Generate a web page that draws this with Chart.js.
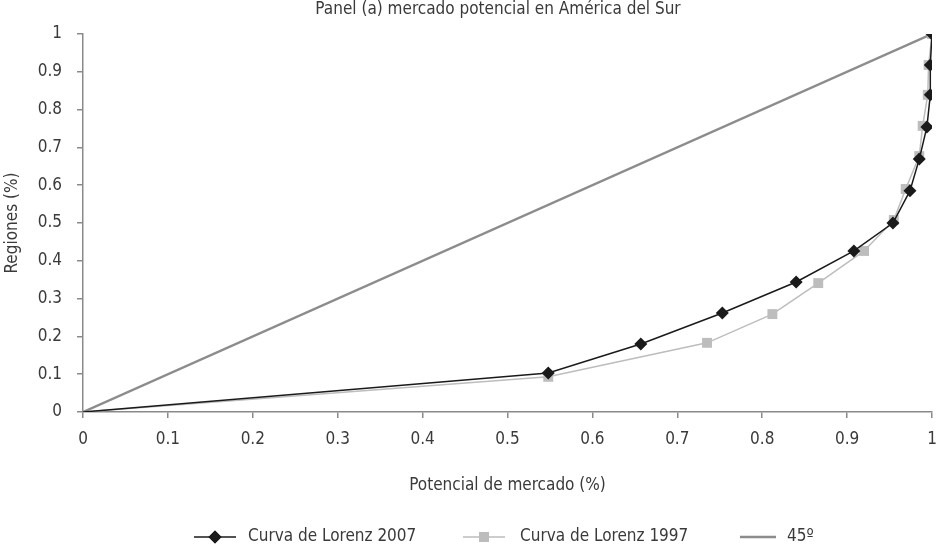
<!DOCTYPE html>
<html>
<head>
<meta charset="utf-8">
<script src="https://cdn.jsdelivr.net/npm/chart.js@4/dist/chart.umd.min.js"></script>
<style>
  html, body { margin: 0; padding: 0; background: #fff; }
  #wrap { width: 941px; height: 552px; position: relative; }
</style>
</head>
<body>
<div id="wrap"><canvas id="lorenz"></canvas></div>
<script>
// share of market potential (x) vs share of regions (y)
const lorenz2007X = [0, 0.548, 0.657, 0.753, 0.840, 0.908, 0.954, 0.974, 0.985, 0.994, 0.998, 0.998, 1.0];
const lorenz2007Y = [0, 0.103, 0.180, 0.262, 0.344, 0.426, 0.500, 0.585, 0.669, 0.754, 0.839, 0.918, 1.0];
const lorenz1997X = [0, 0.548, 0.735, 0.812, 0.866, 0.920, 0.955, 0.969, 0.985, 0.989, 0.995, 0.996, 1.0];
const lorenz1997Y = [0, 0.093, 0.183, 0.259, 0.341, 0.426, 0.508, 0.590, 0.677, 0.757, 0.839, 0.918, 1.0];
const equalityX = [0, 1];
const equalityY = [0, 1];

const seriesLabels = ['Curva de Lorenz 2007', 'Curva de Lorenz 1997', '45º'];
const xTickLabels = ['0', '0.1', '0.2', '0.3', '0.4', '0.5', '0.6', '0.7', '0.8', '0.9', '1'];
const yTickLabels = ['0', '0.1', '0.2', '0.3', '0.4', '0.5', '0.6', '0.7', '0.8', '0.9', '1'];
const chartTitle = 'Panel (a) mercado potencial en América del Sur';

const FONT = "'DejaVu Sans Condensed', 'Liberation Sans Narrow', sans-serif";
const TEXT = '#3a3a3a';
const AXIS = '#8a8a8a';

const toPoints = (xs, ys) => xs.map((x, i) => ({ x: x, y: ys[i] }));

// legend + title drawn by hand so they sit where they should
const legendItems = [
    { lineFrom: 194, lineTo: 236, textX: 248, color: '#1a1a1a', width: 1.5, style: 'rectRot', radius: 6.5 },
    { lineFrom: 463, lineTo: 505, textX: 520, color: '#bdbdbd', width: 1.5, style: 'rect', radius: 7 },
    { lineFrom: 740, lineTo: 776, textX: 787, color: '#8c8c8c', width: 2.5, style: false, radius: 0 }
];

const decorations = {
    id: 'decorations',
    afterDraw(chart) {
        const ctx = chart.ctx;
        const y = 537;
        ctx.save();
        ctx.fillStyle = TEXT;
        ctx.font = '17px ' + FONT;
        ctx.textAlign = 'center';
        ctx.textBaseline = 'middle';
        ctx.fillText(chartTitle, 498, 10);

        legendItems.forEach((item, i) => {
            ctx.strokeStyle = item.color;
            ctx.lineWidth = item.width;
            ctx.beginPath();
            ctx.moveTo(item.lineFrom, y);
            ctx.lineTo(item.lineTo, y);
            ctx.stroke();
            if (item.style) {
                ctx.fillStyle = item.color;
                Chart.helpers.drawPoint(ctx, { pointStyle: item.style, radius: item.radius, borderWidth: 0 },
                    (item.lineFrom + item.lineTo) / 2, y);
                ctx.fill();
            }
            ctx.fillStyle = TEXT;
            ctx.font = '17px ' + FONT;
            ctx.textBaseline = 'middle';
            ctx.textAlign = 'left';
            ctx.fillText(seriesLabels[i], item.textX, y);
        });
        ctx.restore();
    }
};

new Chart(document.getElementById('lorenz'), {
    type: 'scatter',
    data: {
        datasets: [{
            label: seriesLabels[0],
            data: toPoints(lorenz2007X, lorenz2007Y),
            showLine: true,
            borderColor: '#1a1a1a',
            backgroundColor: '#1a1a1a',
            borderWidth: 1.5,
            pointStyle: 'rectRot',
            pointRadius: lorenz2007X.map((x, i) => i === 0 ? 0 : 6.5),
            pointBorderWidth: 0
        }, {
            label: seriesLabels[1],
            data: toPoints(lorenz1997X, lorenz1997Y),
            showLine: true,
            borderColor: '#bdbdbd',
            backgroundColor: '#bdbdbd',
            borderWidth: 1.5,
            pointStyle: 'rect',
            pointRadius: lorenz1997X.map((x, i) => i === 0 ? 0 : 7),
            pointBorderWidth: 0
        }, {
            label: seriesLabels[2],
            data: toPoints(equalityX, equalityY),
            showLine: true,
            borderColor: '#8c8c8c',
            borderWidth: 2.5,
            pointRadius: 0
        }]
    },
    options: {
        responsive: true,
        maintainAspectRatio: false,
        animation: false,
        layout: {
            autoPadding: false,
            padding: { left: 0, right: 9, top: 34, bottom: 52 }
        },
        plugins: {
            legend: { display: false },
            tooltip: { enabled: false },
            title: { display: false }
        },
        scales: {
            x: {
                type: 'linear',
                min: 0,
                max: 1,
                afterFit: (scale) => {
                    scale.height = 88;
                    scale.paddingLeft = 0;
                    scale.paddingRight = 0;
                },
                afterBuildTicks: (scale) => {
                    scale.ticks = xTickLabels.map((t, i) => ({ value: i / 10 }));
                },
                ticks: {
                    color: TEXT,
                    font: { family: FONT, size: 17 },
                    padding: 11,
                    maxRotation: 0,
                    callback: (v, i) => xTickLabels[i]
                },
                grid: { drawOnChartArea: false, drawTicks: true, tickLength: 6, color: AXIS, lineWidth: 1.5 },
                border: { color: AXIS, width: 1.5 },
                title: {
                    display: true,
                    text: 'Potencial de mercado (%)',
                    color: TEXT,
                    font: { family: FONT, size: 17 },
                    padding: { top: 0, bottom: 4 }
                }
            },
            y: {
                type: 'linear',
                min: 0,
                max: 1,
                afterFit: (scale) => { scale.width = 83; },
                afterBuildTicks: (scale) => {
                    scale.ticks = yTickLabels.map((t, i) => ({ value: i / 10 }));
                },
                ticks: {
                    color: TEXT,
                    font: { family: FONT, size: 17 },
                    padding: 15,
                    callback: (v, i) => yTickLabels[i]
                },
                grid: { drawOnChartArea: false, drawTicks: true, tickLength: 6, color: AXIS, lineWidth: 1.5 },
                border: { color: AXIS, width: 1.5 },
                title: {
                    display: true,
                    text: 'Regiones (%)',
                    color: TEXT,
                    font: { family: FONT, size: 17 },
                    padding: { top: 2, bottom: 0 }
                }
            }
        }
    },
    plugins: [decorations]
});
</script>
</body>
</html>
